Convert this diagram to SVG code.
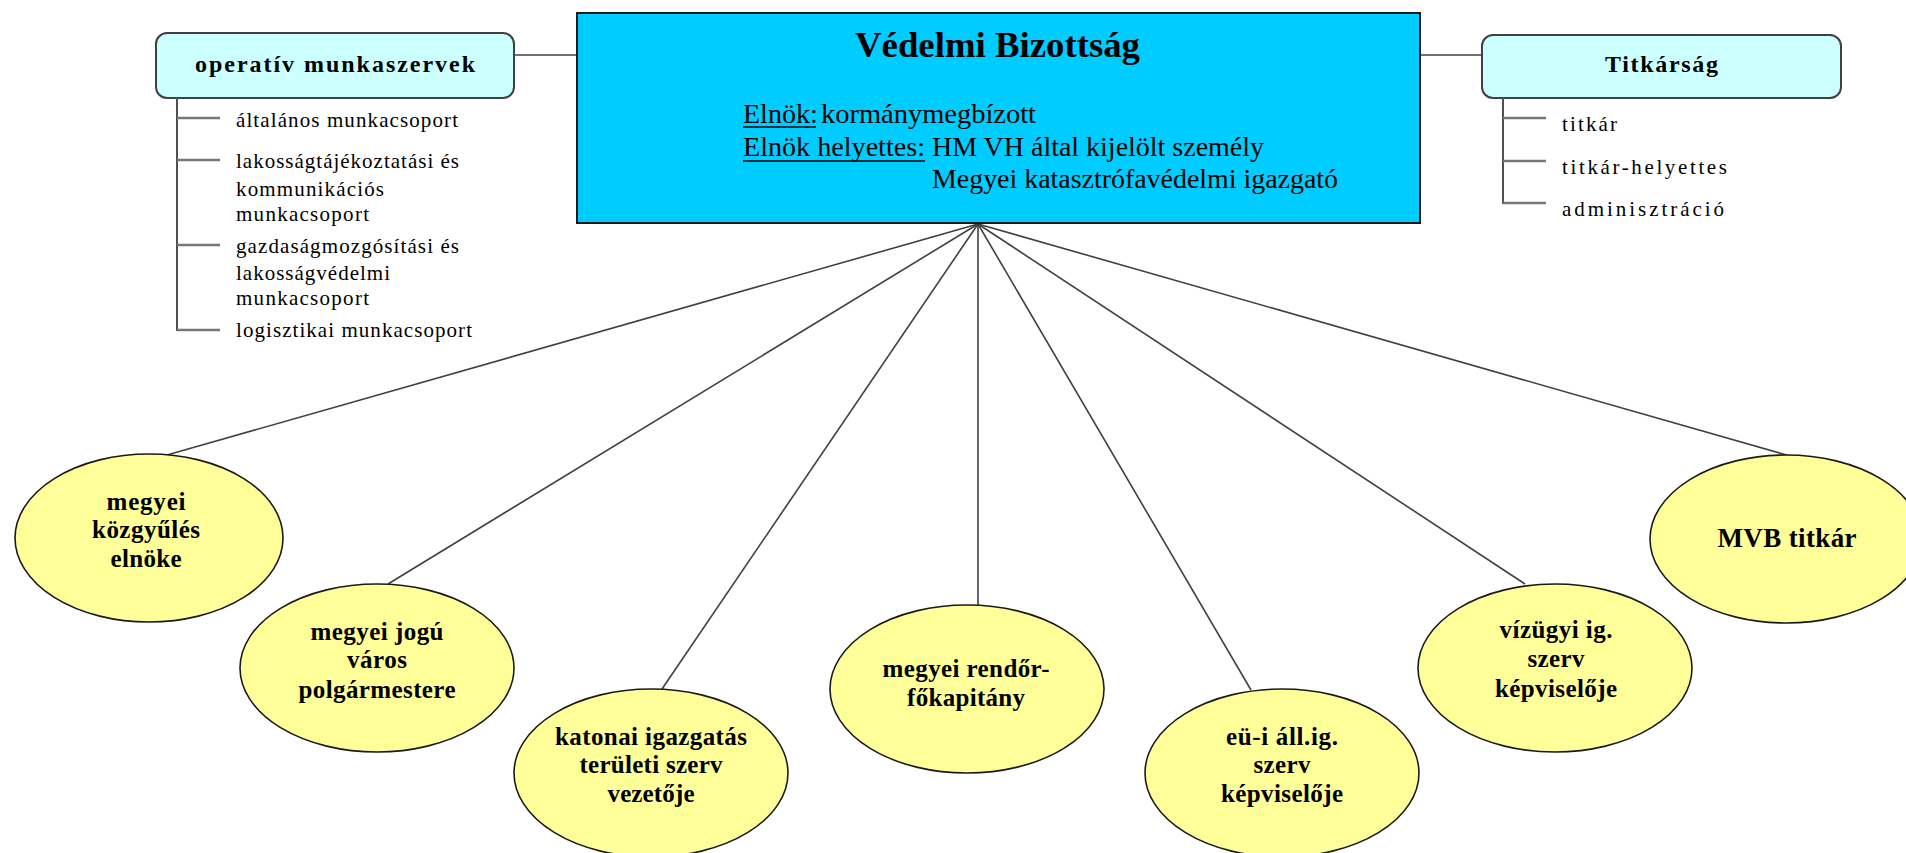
<svg xmlns="http://www.w3.org/2000/svg" width="1906" height="853" viewBox="0 0 1906 853">
<style>
.bg{fill:#ffffff}
.main{fill:#00CCFF;stroke:#1a1a1a;stroke-width:2}
.sub{fill:#CCFFFF;stroke:#404040;stroke-width:2}
.ell{fill:#FFFF99;stroke:#1a1a1a;stroke-width:1.6}
.fan{stroke:#404040;stroke-width:1.6;fill:none}
.side{stroke:#707070;stroke-width:2;fill:none}
.tree{stroke:#505050;stroke-width:2;fill:none}
.branch{stroke:#777777;stroke-width:2.5;fill:none}
text{font-family:"Liberation Serif","Times New Roman",serif;fill:#000}
.ttl{font-size:36px;font-weight:bold}
.lbl{font-size:28px}
.hd{font-size:24px;font-weight:bold}
.li{font-size:21px}
.et{font-size:25px;font-weight:bold;text-anchor:middle}
.ul{stroke:#000;stroke-width:1.5}
</style>
<rect class="bg" x="0" y="0" width="1906" height="853"/>
<g id="connectors">
<line class="side" x1="514" y1="55" x2="577" y2="55"/>
<line class="side" x1="1420" y1="55" x2="1482" y2="55"/>
<line class="fan" x1="978" y1="224" x2="167" y2="455"/>
<line class="fan" x1="978" y1="224" x2="388" y2="584"/>
<line class="fan" x1="978" y1="224" x2="662" y2="689"/>
<line class="fan" x1="978" y1="224" x2="978" y2="605"/>
<line class="fan" x1="978" y1="224" x2="1251" y2="690"/>
<line class="fan" x1="978" y1="224" x2="1525" y2="584"/>
<line class="fan" x1="978" y1="224" x2="1790" y2="456"/>
</g>
<g id="vedelmi-bizottsag">
<rect class="main" x="577" y="13" width="843" height="210"/>
<text class="ttl" x="855" y="57" textLength="285" lengthAdjust="spacingAndGlyphs">Védelmi Bizottság</text>
<text class="lbl" x="743" y="123">Elnök:</text>
<line class="ul" x1="743" y1="127" x2="816" y2="127"/>
<text class="lbl" x="821" y="123" textLength="215" lengthAdjust="spacingAndGlyphs">kormánymegbízott</text>
<text class="lbl" x="743" y="156" textLength="182" lengthAdjust="spacingAndGlyphs">Elnök helyettes:</text>
<line class="ul" x1="743" y1="161" x2="925" y2="161"/>
<text class="lbl" x="932" y="156" textLength="332" lengthAdjust="spacingAndGlyphs">HM VH által kijelölt személy</text>
<text class="lbl" x="932" y="188" textLength="406" lengthAdjust="spacingAndGlyphs">Megyei katasztrófavédelmi igazgató</text>
</g>
<g id="operativ-munkaszervek">
<rect class="sub" x="156" y="33" width="358" height="65" rx="11" ry="11"/>
<text class="hd" x="195" y="72" textLength="280" lengthAdjust="spacing">operatív munkaszervek</text>
<path class="tree" d="M177 98 V331"/>
<path class="branch" d="M177 118 H220 M177 160 H220 M177 245 H220 M177 330 H220"/>
<text class="li" x="236" y="127" textLength="222" lengthAdjust="spacing">általános munkacsoport</text>
<text class="li" x="236" y="168" textLength="223" lengthAdjust="spacing">lakosságtájékoztatási és</text>
<text class="li" x="236" y="196" textLength="148" lengthAdjust="spacing">kommunikációs</text>
<text class="li" x="236" y="221" textLength="133" lengthAdjust="spacing">munkacsoport</text>
<text class="li" x="236" y="253" textLength="223" lengthAdjust="spacing">gazdaságmozgósítási és</text>
<text class="li" x="236" y="280" textLength="154" lengthAdjust="spacing">lakosságvédelmi</text>
<text class="li" x="236" y="305" textLength="133" lengthAdjust="spacing">munkacsoport</text>
<text class="li" x="236" y="337" textLength="236" lengthAdjust="spacing">logisztikai munkacsoport</text>
</g>
<g id="titkarsag">
<rect class="sub" x="1482" y="35" width="359" height="63" rx="11" ry="11"/>
<text class="hd" x="1605" y="72" textLength="113" lengthAdjust="spacing">Titkárság</text>
<path class="tree" d="M1503 98 V204"/>
<path class="branch" d="M1503 118 H1546 M1503 161 H1546 M1503 203 H1546"/>
<text class="li" x="1562" y="131" textLength="55" lengthAdjust="spacing">titkár</text>
<text class="li" x="1562" y="174" textLength="165" lengthAdjust="spacing">titkár-helyettes</text>
<text class="li" x="1562" y="216" textLength="162" lengthAdjust="spacing">adminisztráció</text>
</g>
<g id="megyei-kozgyules-elnoke">
<ellipse class="ell" cx="149" cy="538" rx="134" ry="84"/>
<text class="et" x="146" y="510" textLength="79" lengthAdjust="spacing">megyei</text>
<text class="et" x="146" y="538" textLength="108" lengthAdjust="spacing">közgyűlés</text>
<text class="et" x="146" y="567" textLength="71" lengthAdjust="spacing">elnöke</text>
</g>
<g id="megyei-jogu-varos-polgarmestere">
<ellipse class="ell" cx="377" cy="668" rx="137" ry="84"/>
<text class="et" x="377" y="640" textLength="133" lengthAdjust="spacing">megyei jogú</text>
<text class="et" x="377" y="668" textLength="60" lengthAdjust="spacing">város</text>
<text class="et" x="377" y="698" textLength="157" lengthAdjust="spacing">polgármestere</text>
</g>
<g id="katonai-igazgatas">
<ellipse class="ell" cx="651" cy="773" rx="137" ry="84"/>
<text class="et" x="651" y="745" textLength="192" lengthAdjust="spacing">katonai igazgatás</text>
<text class="et" x="651" y="773" textLength="143" lengthAdjust="spacing">területi szerv</text>
<text class="et" x="651" y="802" textLength="87" lengthAdjust="spacing">vezetője</text>
</g>
<g id="megyei-rendor-fokapitany">
<ellipse class="ell" cx="967" cy="689" rx="137" ry="84"/>
<text class="et" x="966" y="677" textLength="167" lengthAdjust="spacing">megyei rendőr-</text>
<text class="et" x="966" y="706" textLength="118" lengthAdjust="spacing">főkapitány</text>
</g>
<g id="eu-all-ig-szerv">
<ellipse class="ell" cx="1282" cy="773" rx="137" ry="84"/>
<text class="et" x="1282" y="745" textLength="112" lengthAdjust="spacing">eü-i áll.ig.</text>
<text class="et" x="1282" y="773" textLength="57" lengthAdjust="spacing">szerv</text>
<text class="et" x="1282" y="802" textLength="122" lengthAdjust="spacing">képviselője</text>
</g>
<g id="vizugyi-ig-szerv">
<ellipse class="ell" cx="1555" cy="668" rx="137" ry="84"/>
<text class="et" x="1556" y="638" textLength="113" lengthAdjust="spacing">vízügyi ig.</text>
<text class="et" x="1556" y="667" textLength="57" lengthAdjust="spacing">szerv</text>
<text class="et" x="1556" y="697" textLength="122" lengthAdjust="spacing">képviselője</text>
</g>
<g id="mvb-titkar">
<ellipse class="ell" cx="1786" cy="539" rx="136" ry="84"/>
<text class="et" x="1787" y="547" style="font-size:27px" textLength="139" lengthAdjust="spacing">MVB titkár</text>
</g>
</svg>
